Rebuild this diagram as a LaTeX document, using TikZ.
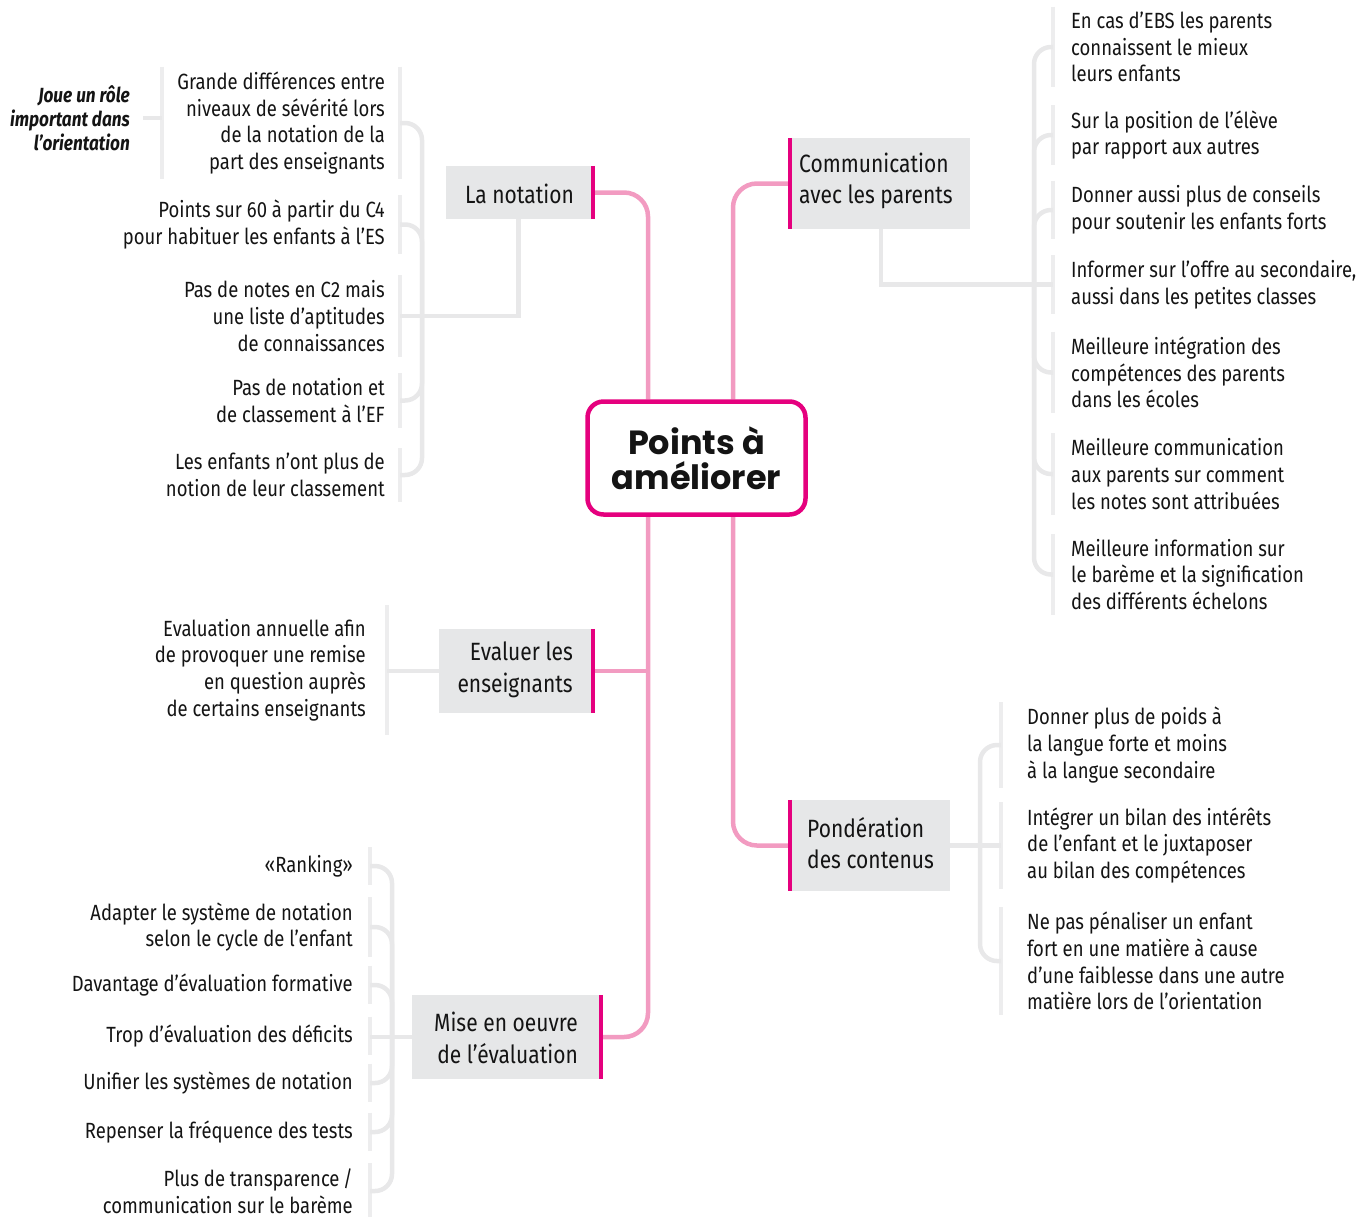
\documentclass[tikz,border=0pt]{standalone}
\usepackage{fontspec}
\setmainfont[FakeStretch=0.84]{Fira Sans}
\newfontfamily\titlefont{Poppins}
\usetikzlibrary{calc}
\definecolor{ink}{HTML}{141414}
\definecolor{pinkc}{HTML}{F29BC1}
\definecolor{magc}{HTML}{E5007E}
\definecolor{catgray}{HTML}{E6E7E8}
\definecolor{lgray}{HTML}{E8E8E9}
\definecolor{bargray}{HTML}{EDEDEE}
\pgfdeclarelayer{bg}
\pgfsetlayers{bg,main}
\tikzset{
  item/.style={font=\fontsize{22}{26.7}\selectfont, text=ink, inner ysep=5pt},
  itemR/.style={item, anchor=east, align=right},
  itemL/.style={item, anchor=west, align=left},
  catbox/.style={fill=catgray, inner sep=0pt},
  cattext/.style={font=\fontsize{25}{31.5}\selectfont, text=ink, inner sep=0pt},
  conn/.style={draw=lgray, line width=4.5pt},
  brk/.style={draw=lgray, line width=4.5pt, rounded corners=17pt},
  bar/.style={draw=bargray, line width=4pt},
  mbar/.style={draw=magc, line width=4pt},
  pinkline/.style={draw=pinkc, line width=4.5pt, rounded corners=24pt},
}
\begin{document}
\begin{tikzpicture}[x=1pt,y=-1pt]
\useasboundingbox (0,0) rectangle (1367,1216);

% centre
\node[draw=magc, line width=4.5pt, fill=white, rounded corners=16pt,
      minimum width=218pt, minimum height=113pt, align=center, text=ink,
      font=\titlefont\bfseries\fontsize{33.5}{35}\selectfont] (P) at (696.5,458) {Points à\\améliorer};
\coordinate (PL) at ($(P.north)+(-48.5,0)$);
\coordinate (PLs) at ($(P.south)+(-48.5,0)$);
\coordinate (PR) at ($(P.north)+(36.5,0)$);
\coordinate (PRs) at ($(P.south)+(36.5,0)$);

% category boxes
\node[catbox, minimum width=145pt, minimum height=53pt] (LaNot) at (518.5,192.5) {};
\node[cattext, anchor=east] (LaNotT) at (574,194) {La notation};
\node[catbox, minimum width=178pt, minimum height=91pt] (Comm) at (881,183.5) {};
\node[cattext, anchor=west, align=left] (CommT) at (799,181) {Communication\\avec les parents};
\node[catbox, minimum width=152pt, minimum height=84pt] (Eval) at (515,671) {};
\node[cattext, anchor=east, align=right] (EvalT) at (573,670) {Evaluer les\\enseignants};
\node[catbox, minimum width=187pt, minimum height=84pt] (Mise) at (505.5,1037) {};
\node[cattext, anchor=east, align=right] (MiseT) at (578,1038) {Mise en oeuvre\\de l’évaluation};
\node[catbox, minimum width=158pt, minimum height=91pt] (Pond) at (871,845.5) {};
\node[cattext, anchor=west, align=left] (PondT) at (807,843) {Pondération\\des contenus};

\draw[mbar] ($(LaNot.north east)+(2,0)$) -- ($(LaNot.south east)+(2,0)$);
\draw[mbar] ($(Comm.north west)+(-2,0)$) -- ($(Comm.south west)+(-2,0)$);
\draw[mbar] ($(Eval.north east)+(2,0)$) -- ($(Eval.south east)+(2,0)$);
\draw[mbar] ($(Mise.north east)+(2,0)$) -- ($(Mise.south east)+(2,0)$);
\draw[mbar] ($(Pond.north west)+(-2,0)$) -- ($(Pond.south west)+(-2,0)$);

% La notation items
\node[itemR, inner xsep=15pt] (n1) at (400,123) {Grande différences entre\\niveaux de sévérité lors\\de la notation de la\\part des enseignants};
\node[itemR, inner xsep=15pt] (n2) at (400,224.5) {Points sur 60 à partir du C4\\pour habituer les enfants à l’ES};
\node[itemR, inner xsep=15pt] (n3) at (400,316) {Pas de notes en C2 mais\\une liste d’aptitudes\\de connaissances};
\node[itemR, inner xsep=15pt] (n4) at (400,400.5) {Pas de notation et\\de classement à l’EF};
\node[itemR, inner xsep=15pt] (n5) at (400,475) {Les enfants n’ont plus de\\notion de leur classement};
\node[anchor=east, align=right, inner xsep=13pt, text=ink,
      font=\fontsize{20.5}{24}\selectfont\bfseries\itshape] (J) at (143,118) {Joue un rôle\\important dans\\l’orientation};
\coordinate (s1) at (422,316);

% Communication items
\node[itemL, inner xsep=18pt] (c1) at (1053,47) {En cas d’EBS les parents\\connaissent le mieux\\leurs enfants};
\node[itemL, inner xsep=18pt] (c2) at (1053,135) {Sur la position de l’élève\\par rapport aux autres};
\node[itemL, inner xsep=18pt] (c3) at (1053,210) {Donner aussi plus de conseils\\pour soutenir les enfants forts};
\node[itemL, inner xsep=18pt] (c4) at (1053,284.5) {Informer sur l’offre au secondaire,\\aussi dans les petites classes};
\node[itemL, inner xsep=18pt] (c5) at (1053,372.5) {Meilleure intégration des\\compétences des parents\\dans les écoles};
\node[itemL, inner xsep=18pt] (c6) at (1053,474) {Meilleure communication\\aux parents sur comment\\les notes sont attribuées};
\node[itemL, inner xsep=18pt] (c7) at (1053,574.5) {Meilleure information sur\\le barème et la signification\\des différents échelons};
\coordinate (s2) at (1034,284.5);

% Ponderation items
\node[itemL, inner xsep=26pt] (p1) at (1001,745) {Donner plus de poids à\\la langue forte et moins\\à la langue secondaire};
\node[itemL, inner xsep=26pt] (p2) at (1001,845.5) {Intégrer un bilan des intérêts\\de l’enfant et le juxtaposer\\au bilan des compétences};
\node[itemL, inner xsep=26pt] (p3) at (1001,961) {Ne pas pénaliser un enfant\\fort en une matière à cause\\d’une faiblesse dans une autre\\matière lors de l’orientation};
\coordinate (s3) at (980,845.5);

% Evaluer item
\node[itemR, inner xsep=21pt, inner ysep=14pt] (e1) at (387,670) {Evaluation annuelle afin\\de provoquer une remise\\en question auprès\\de certains enseignants};

% Mise items
\node[itemR, inner xsep=17pt, inner ysep=8pt] (m1) at (370,866) {«Ranking»};
\node[itemR, inner xsep=17pt] (m2) at (370,927) {Adapter le système de notation\\selon le cycle de l’enfant};
\node[itemR, inner xsep=17pt, inner ysep=8pt] (m3) at (370,985) {Davantage d’évaluation formative};
\node[itemR, inner xsep=17pt, inner ysep=8pt] (m4) at (370,1036) {Trop d’évaluation des déficits};
\node[itemR, inner xsep=17pt, inner ysep=8pt] (m5) at (370,1083) {Unifier les systèmes de notation};
\node[itemR, inner xsep=17pt, inner ysep=8pt] (m6) at (370,1132) {Repenser la fréquence des tests};
\node[itemR, inner xsep=17pt] (m7) at (370,1191) {Plus de transparence\,/\\communication sur le barème};
\coordinate (s4) at (392,1037);

\begin{pgfonlayer}{bg}
  % pink trunk lines
  \draw[pinkline] (PL) |- (LaNot.east);
  \draw[pinkline] (PLs) |- (Mise.east);
  \draw[pinkline, rounded corners=0pt] (Eval.east) -- (Eval.east -| PLs);
  \draw[pinkline] (PR) |- (Comm.west);
  \draw[pinkline] (PRs) |- (Pond.west);

  % item bars
  \foreach \n in {n1,n2,n3,n4,n5,e1,m1,m2,m3,m4,m5,m6,m7}
    \draw[bar] (\n.north east) -- (\n.south east);
  \foreach \n in {c1,c2,c3,c4,c5,c6,c7,p1,p2,p3}
    \draw[bar] (\n.north west) -- (\n.south west);
  \draw[bar] (n1.north west) -- (n1.south west);

  % gray connectors
  \draw[conn] (J.east) -- (J.east -| n1.west);
  \draw[conn] (LaNot.south) |- (n3.east);
  \foreach \n in {n1,n2,n4,n5} \draw[brk] (\n.east) -| (s1);
  \draw[conn] (Comm.south) |- (c4.west);
  \foreach \n in {c1,c2,c3,c5,c6,c7} \draw[brk] (\n.west) -| (s2);
  \draw[conn] (Pond.east) -- (Pond.east -| p2.west);
  \foreach \n in {p1,p3} \draw[brk] (\n.west) -| (s3);
  \draw[conn] (Eval.west) -- (Eval.west -| e1.east);
  \draw[conn] (Mise.west) -- (Mise.west -| m4.east);
  \foreach \n in {m1,m2,m3,m5,m6,m7} \draw[brk] (\n.east) -| (s4);
\end{pgfonlayer}
\end{tikzpicture}
\end{document}
